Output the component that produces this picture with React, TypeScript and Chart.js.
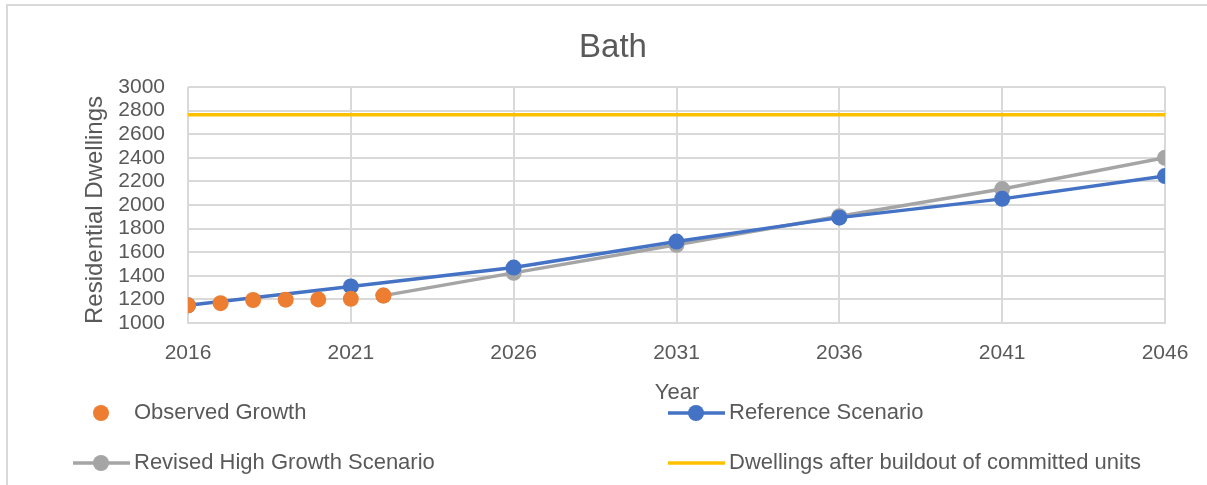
import React, { useEffect, useRef } from "react";
import { Chart, registerables } from "chart.js";

Chart.register(...registerables);

const chartTitle = "Bath";
const xAxisTitle = "Year";
const yAxisTitle = "Residential Dwellings";

const observedYears = [2016, 2017, 2018, 2019, 2020, 2021, 2022];
const observedValues = [1150, 1168, 1195, 1198, 1200, 1205, 1232];

const referenceYears = [2016, 2021, 2026, 2031, 2036, 2041, 2046];
const referenceValues = [1150, 1310, 1470, 1690, 1893, 2052, 2245];

const revisedYears = [2022, 2026, 2031, 2036, 2041, 2046];
const revisedValues = [1232, 1425, 1663, 1905, 2135, 2400];

const buildoutYears = [2016, 2046];
const buildoutValues = [2765, 2765];

const seriesNames = [
  "Observed Growth",
  "Reference Scenario",
  "Revised High Growth Scenario",
  "Dwellings after buildout of committed units",
];

const FONT = "'Liberation Sans', Arial, sans-serif";
const TEXT = "#595959";
const GRID = "#d9d9d9";
const ORANGE = "#ED7D31";
const BLUE = "#4472C4";
const GRAY = "#A5A5A5";
const YELLOW = "#FFC000";

const pts = (xs: number[], ys: number[]) => xs.map((x, i) => ({ x, y: ys[i] }));

const overlay = {
  id: "overlay",
  beforeDraw(chart: any) {
    const ctx = chart.ctx;
    ctx.save();
    ctx.strokeStyle = GRID;
    ctx.lineWidth = 2;
    ctx.beginPath();
    ctx.moveTo(7, 485);
    ctx.lineTo(7, 5);
    ctx.lineTo(1207, 5);
    ctx.stroke();
    ctx.restore();
  },
  afterDraw(chart: any) {
    const ctx = chart.ctx;
    ctx.save();
    ctx.fillStyle = TEXT;
    ctx.textAlign = "center";
    ctx.textBaseline = "middle";
    ctx.font = `33px ${FONT}`;
    ctx.fillText(chartTitle, 613, 48);
    ctx.font = `22px ${FONT}`;
    ctx.fillText(xAxisTitle, 677, 393);
    ctx.save();
    ctx.translate(95, 210);
    ctx.rotate(-Math.PI / 2);
    ctx.font = `24px ${FONT}`;
    ctx.fillText(yAxisTitle, 0, 0);
    ctx.restore();

    const items = [
      { kind: "dot", color: ORANGE, x: 73, y: 413 },
      { kind: "linedot", color: BLUE, x: 668, y: 413 },
      { kind: "linedot", color: GRAY, x: 73, y: 463 },
      { kind: "line", color: YELLOW, x: 668, y: 463 },
    ];
    items.forEach((it, i) => {
      const cx = it.x + 28;
      if (it.kind !== "dot") {
        ctx.strokeStyle = it.color;
        ctx.lineWidth = 3.5;
        ctx.beginPath();
        ctx.moveTo(it.x, it.y);
        ctx.lineTo(it.x + 57, it.y);
        ctx.stroke();
      }
      if (it.kind !== "line") {
        ctx.fillStyle = it.color;
        ctx.beginPath();
        ctx.arc(cx, it.y, 8, 0, Math.PI * 2);
        ctx.fill();
      }
      ctx.fillStyle = TEXT;
      ctx.textAlign = "left";
      ctx.font = `22px ${FONT}`;
      ctx.fillText(seriesNames[i], it.x + 61, it.y);
    });
    ctx.restore();
  },
};

export default function App() {
  const ref = useRef<HTMLCanvasElement>(null);
  useEffect(() => {
    if (!ref.current) return;
    const chart = new Chart(ref.current, {
      type: "line",
      data: {
        datasets: [
          {
            label: seriesNames[0],
            data: pts(observedYears, observedValues),
            showLine: false,
            backgroundColor: ORANGE,
            borderColor: ORANGE,
            pointRadius: 8,
            pointBorderWidth: 0,
          },
          {
            label: seriesNames[1],
            data: pts(referenceYears, referenceValues),
            borderColor: BLUE,
            backgroundColor: BLUE,
            borderWidth: 3.5,
            pointRadius: 8,
            pointBorderWidth: 0,
          },
          {
            label: seriesNames[2],
            data: pts(revisedYears, revisedValues),
            borderColor: GRAY,
            backgroundColor: GRAY,
            borderWidth: 3.5,
            pointRadius: 8,
            pointBorderWidth: 0,
          },
          {
            label: seriesNames[3],
            data: pts(buildoutYears, buildoutValues),
            borderColor: YELLOW,
            backgroundColor: YELLOW,
            borderWidth: 3.5,
            pointRadius: 0,
          },
        ],
      },
      options: {
        animation: false,
        responsive: false,
        layout: { padding: { top: 87, right: 42, left: 0, bottom: 0 } },
        plugins: {
          legend: { display: false },
          title: { display: false },
          tooltip: { enabled: false },
        },
        scales: {
          x: {
            type: "linear",
            min: 2016,
            max: 2046,
            afterFit: (s: any) => {
              s.height = 162;
            },
            ticks: {
              stepSize: 5,
              autoSkip: false,
              maxRotation: 0,
              padding: 18,
              color: TEXT,
              font: { family: FONT, size: 21 },
              callback: (v: any) => String(v),
            },
            grid: { color: GRID, lineWidth: 2, drawTicks: false },
            border: { color: GRID, width: 2 },
          },
          y: {
            min: 1000,
            max: 3000,
            afterFit: (s: any) => {
              s.width = 188;
            },
            ticks: {
              stepSize: 200,
              autoSkip: false,
              padding: 23,
              color: TEXT,
              font: { family: FONT, size: 21 },
              callback: (v: any) => String(v),
            },
            grid: { color: GRID, lineWidth: 2, drawTicks: false },
            border: { display: false },
          },
        },
      } as any,
      plugins: [overlay],
    });
    return () => chart.destroy();
  }, []);
  return (
    <div style={{ position: "fixed", left: 0, top: 0, width: 1207, height: 485, background: "#fff" }}>
      <canvas ref={ref} width={1207} height={485} style={{ width: 1207, height: 485, display: "block" }} />
    </div>
  );
}
